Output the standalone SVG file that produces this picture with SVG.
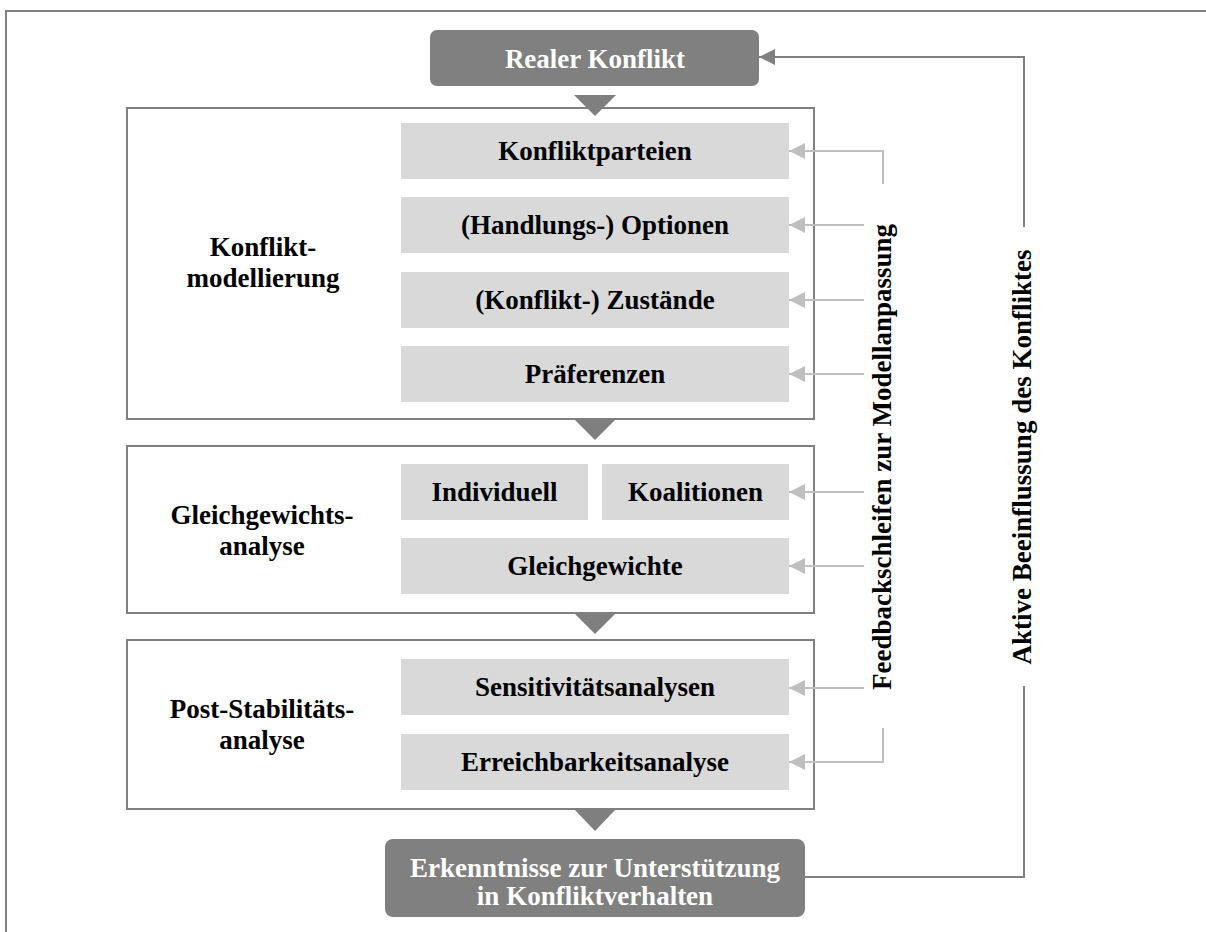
<svg xmlns="http://www.w3.org/2000/svg" width="1206" height="932" viewBox="0 0 1206 932">
  <style>
    text { font-family: 'Liberation Serif', Tinos, 'DejaVu Serif', serif; font-weight: 700; font-size: 27px; }
    .lbl { fill: #000; text-anchor: middle; }
    .wlbl { fill: #fff; text-anchor: middle; }
    .stage { fill: #fff; stroke: #808080; stroke-width: 2; }
    .item { fill: #d9d9d9; }
    .term { fill: #808080; }
    .flow { fill: #7f7f7f; }
    .fb { fill: none; stroke: #bfbfbf; stroke-width: 2; }
    .act { fill: none; stroke: #808080; stroke-width: 2; }
  </style>
  <defs>
    <marker id="headLight" viewBox="0 0 16 16" refX="16" refY="8" markerWidth="16" markerHeight="16" markerUnits="userSpaceOnUse" orient="auto">
      <path d="M0,0 L16,8 L0,16 Z" fill="#bfbfbf"/>
    </marker>
    <marker id="headDark" viewBox="0 0 16 16" refX="16" refY="8" markerWidth="16" markerHeight="16" markerUnits="userSpaceOnUse" orient="auto">
      <path d="M0,0 L16,8 L0,16 Z" fill="#808080"/>
    </marker>
  </defs>

  <rect width="1206" height="932" fill="#fff"/>
  <!-- frame -->
  <path d="M6,932 L6,11 L1206,11" fill="none" stroke="#808080" stroke-width="2"/>

  <g font-family="Liberation Serif, serif" font-weight="bold">
  <!-- start -->
  <g id="realer-konflikt">
    <rect class="term" x="430" y="30" width="329" height="56" rx="7"/>
    <text class="wlbl" x="595" y="68">Realer Konflikt</text>
  </g>

  <!-- stage 1 -->
  <g id="konfliktmodellierung">
    <rect class="stage" x="127" y="108" width="687" height="311"/>
    <text class="lbl" x="263" y="256">Konflikt-</text>
    <text class="lbl" x="263" y="287">modellierung</text>
  </g>
  <g id="konfliktparteien">
    <rect class="item" x="401" y="123" width="388" height="56"/>
    <text class="lbl" x="595" y="160">Konfliktparteien</text>
  </g>
  <g id="optionen">
    <rect class="item" x="401" y="197" width="388" height="56"/>
    <text class="lbl" x="595" y="234">(Handlungs-) Optionen</text>
  </g>
  <g id="zustaende">
    <rect class="item" x="401" y="272" width="388" height="56"/>
    <text class="lbl" x="595" y="309">(Konflikt-) Zustände</text>
  </g>
  <g id="praeferenzen">
    <rect class="item" x="401" y="346" width="388" height="56"/>
    <text class="lbl" x="595" y="383">Präferenzen</text>
  </g>

  <!-- stage 2 -->
  <g id="gleichgewichtsanalyse">
    <rect class="stage" x="127" y="446" width="687" height="167"/>
    <text class="lbl" x="262" y="524">Gleichgewichts-</text>
    <text class="lbl" x="262" y="555">analyse</text>
  </g>
  <g id="individuell">
    <rect class="item" x="401" y="464" width="187" height="56"/>
    <text class="lbl" x="494.5" y="501">Individuell</text>
  </g>
  <g id="koalitionen">
    <rect class="item" x="602" y="464" width="187" height="56"/>
    <text class="lbl" x="695.5" y="501">Koalitionen</text>
  </g>
  <g id="gleichgewichte">
    <rect class="item" x="401" y="538" width="388" height="56"/>
    <text class="lbl" x="595" y="575">Gleichgewichte</text>
  </g>

  <!-- stage 3 -->
  <g id="post-stabilitaetsanalyse">
    <rect class="stage" x="127" y="640" width="687" height="169"/>
    <text class="lbl" x="262" y="718">Post-Stabilitäts-</text>
    <text class="lbl" x="262" y="749">analyse</text>
  </g>
  <g id="sensitivitaetsanalysen">
    <rect class="item" x="401" y="659" width="388" height="56"/>
    <text class="lbl" x="595" y="696">Sensitivitätsanalysen</text>
  </g>
  <g id="erreichbarkeitsanalyse">
    <rect class="item" x="401" y="734" width="388" height="56"/>
    <text class="lbl" x="595" y="771">Erreichbarkeitsanalyse</text>
  </g>

  <!-- result -->
  <g id="erkenntnisse">
    <rect class="term" x="385" y="839" width="420" height="78" rx="8"/>
    <text class="wlbl" x="595" y="877">Erkenntnisse zur Unterstützung</text>
    <text class="wlbl" x="595" y="905">in Konfliktverhalten</text>
  </g>

  <!-- connectors -->
  <g id="connectors">
    <!-- flow between stages -->
    <polygon class="flow" points="574,95 616,95 595,116"/>
    <polygon class="flow" points="574,419 616,419 595,440"/>
    <polygon class="flow" points="574,613 616,613 595,634"/>
    <polygon class="flow" points="574,809 616,809 595,831"/>

    <!-- feedback loops for model adjustment -->
    <path class="fb" d="M883,184 L883,151 L789,151" marker-end="url(#headLight)"/>
    <path class="fb" d="M864,225 L789,225" marker-end="url(#headLight)"/>
    <path class="fb" d="M864,300 L789,300" marker-end="url(#headLight)"/>
    <path class="fb" d="M864,374 L789,374" marker-end="url(#headLight)"/>
    <path class="fb" d="M864,492 L789,492" marker-end="url(#headLight)"/>
    <path class="fb" d="M864,566 L789,566" marker-end="url(#headLight)"/>
    <path class="fb" d="M864,688 L789,688" marker-end="url(#headLight)"/>
    <path class="fb" d="M883,728 L883,762 L789,762" marker-end="url(#headLight)"/>
    <text class="lbl" transform="translate(891,457) rotate(-90)">Feedbackschleifen zur Modellanpassung</text>

    <!-- active influence loop -->
    <path class="act" d="M805,877 L1024,877 L1024,686"/>
    <path class="act" d="M1024,227 L1024,57 L759,57" marker-end="url(#headDark)"/>
    <text class="lbl" transform="translate(1031,457) rotate(-90)">Aktive Beeinflussung des Konfliktes</text>
  </g>
  </g>
</svg>
